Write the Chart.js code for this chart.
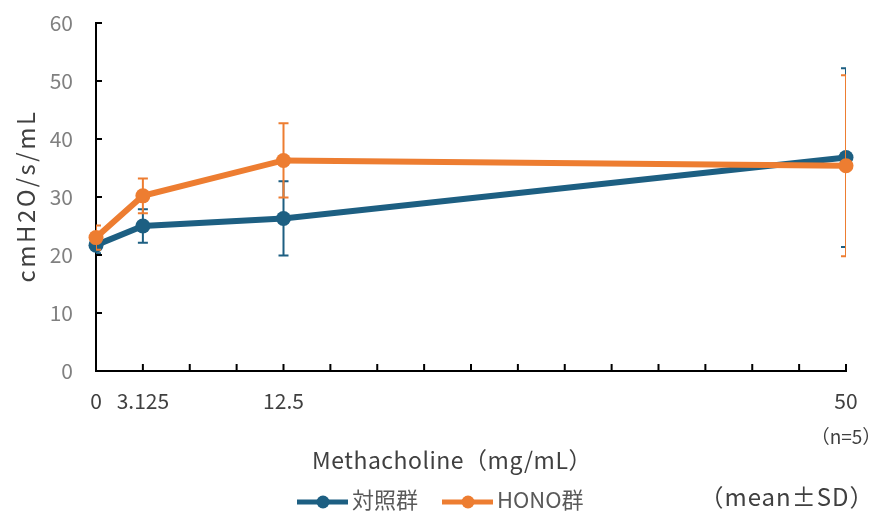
<!DOCTYPE html>
<html>
<head>
<meta charset="utf-8">
<script src="https://cdn.jsdelivr.net/npm/chart.js@4/dist/chart.umd.min.js"></script>
<style>
  body { margin: 0; background: #fff; }
</style>
</head>
<body>
<canvas id="mchChart" width="875" height="511"></canvas>
<script>
// メタコリン濃度
var doses = [0, 3.125, 12.5, 50];
var labelledDoses = [0, 3.125, 12.5, 50];
// 対照群 mean / SD
var controlMean = [21.7, 25.0, 26.3, 36.8];
var controlSD = [1.4, 2.9, 6.4, 15.4];
// HONO群 mean / SD
var honoMean = [23.0, 30.2, 36.3, 35.4];
var honoSD = [2.1, 3.0, 6.4, 15.6];
var yTicks = [0, 10, 20, 30, 40, 50, 60];

var BLUE = '#1d5f82';
var ORANGE = '#ed7d31';
var FONT = '"Noto Sans CJK JP", "Noto Sans", sans-serif';

function points(means) {
  return doses.map(function (d, i) { return { x: d, y: means[i] }; });
}

// エラーバー（データセットごとに描画）
var errorBars = {
  id: 'errorBars',
  beforeDatasetDraw: function (chart, args) {
    var ds = chart.data.datasets[args.index];
    var x = chart.scales.x, y = chart.scales.y, a = chart.chartArea;
    var ctx = chart.ctx;
    ctx.save();
    ctx.beginPath();
    ctx.rect(a.left, a.top - 10, a.right - a.left, a.bottom - a.top + 20);
    ctx.clip();
    ctx.strokeStyle = ds.borderColor;
    ctx.lineWidth = 2;
    doses.forEach(function (d, i) {
      var px = x.getPixelForValue(d);
      var hi = y.getPixelForValue(ds.means[i] + ds.sd[i]);
      var lo = y.getPixelForValue(ds.means[i] - ds.sd[i]);
      ctx.beginPath();
      ctx.moveTo(px, hi); ctx.lineTo(px, lo);
      ctx.moveTo(px - 5, hi); ctx.lineTo(px + 5, hi);
      ctx.moveTo(px - 5, lo); ctx.lineTo(px + 5, lo);
      ctx.stroke();
    });
    ctx.restore();
  }
};

// 内向きの目盛り・軸ラベル・凡例
var extras = {
  id: 'extras',
  afterDraw: function (chart) {
    var ctx = chart.ctx, x = chart.scales.x, y = chart.scales.y, a = chart.chartArea;
    ctx.save();
    ctx.strokeStyle = '#000';
    ctx.lineWidth = 2;
    ctx.beginPath();
    yTicks.forEach(function (v) {
      var py = y.getPixelForValue(v);
      ctx.moveTo(a.left, py); ctx.lineTo(a.left + 6, py);
    });
    for (var v = 0; v <= 50; v += 3.125) {
      var px = x.getPixelForValue(v);
      ctx.moveTo(px, a.bottom); ctx.lineTo(px, a.bottom - 7);
    }
    ctx.stroke();

    ctx.textBaseline = 'middle';
    ctx.textAlign = 'center';
    ctx.fillStyle = '#404040';

    // 縦軸タイトル
    ctx.save();
    ctx.translate(26, (a.top + a.bottom) / 2);
    ctx.rotate(-Math.PI / 2);
    ctx.font = '24px ' + FONT;
    ctx.letterSpacing = '2.5px';
    ctx.fillText('cmH2O/s/mL', 1, 0);
    ctx.restore();

    ctx.font = '23px ' + FONT;
    ctx.letterSpacing = '0.5px';
    ctx.fillText('Methacholine（mg/mL）', 452, 460);
    ctx.font = '19px ' + FONT;
    ctx.letterSpacing = '0px';
    ctx.fillText('（n=5）', 846, 437);
    ctx.font = '24px ' + FONT;
    ctx.letterSpacing = '1px';
    ctx.fillText('（mean±SD）', 787, 497);
    ctx.letterSpacing = '0px';

    // 凡例
    var items = [
      { text: '対照群', color: BLUE, x0: 297 },
      { text: 'HONO群', color: ORANGE, x0: 442 }
    ];
    items.forEach(function (it) {
      ctx.strokeStyle = it.color;
      ctx.lineWidth = 5;
      ctx.beginPath();
      ctx.moveTo(it.x0, 502); ctx.lineTo(it.x0 + 51, 502);
      ctx.stroke();
      ctx.fillStyle = it.color;
      ctx.beginPath();
      ctx.arc(it.x0 + 26, 502, 6.5, 0, Math.PI * 2);
      ctx.fill();
      ctx.fillStyle = '#595959';
      ctx.font = '22px ' + FONT;
      ctx.textAlign = 'left';
      ctx.fillText(it.text, it.x0 + 55, 500);
    });
    ctx.restore();
  }
};

var mchChart = new Chart(document.getElementById('mchChart'), {
  type: 'line',
  data: {
    datasets: [
      {
        label: '対照群',
        data: points(controlMean),
        means: controlMean,
        sd: controlSD,
        borderColor: BLUE,
        backgroundColor: BLUE,
        borderWidth: 6,
        pointRadius: 7.5,
        pointHoverRadius: 7.5,
        pointBorderWidth: 0,
        clip: false,
        order: 2,
      },
      {
        label: 'HONO群',
        data: points(honoMean),
        means: honoMean,
        sd: honoSD,
        borderColor: ORANGE,
        backgroundColor: ORANGE,
        borderWidth: 6,
        pointRadius: 7.5,
        pointHoverRadius: 7.5,
        pointBorderWidth: 0,
        clip: false,
        order: 1,
      },
    ],
  },
  options: {
    responsive: false,
    animation: false,
    devicePixelRatio: 1,
    layout: { padding: { top: 23, right: 29, left: 0, bottom: 0 } },
    plugins: {
      legend: { display: false },
      tooltip: { enabled: false },
    },
    scales: {
      x: {
        type: 'linear',
        min: 0,
        max: 50,
        afterBuildTicks: function (s) {
          s.ticks = labelledDoses.map(function (v) { return { value: v }; });
        },
        afterFit: function (s) {
          s.height = 140;
          s.paddingLeft = 0;
          s.paddingRight = 0;
        },
        grid: { display: false, drawTicks: false },
        border: { display: true, color: '#000', width: 2 },
        ticks: {
          autoSkip: false,
          maxRotation: 0,
          padding: 17,
          color: '#404040',
          font: { family: FONT, size: 21 },
          callback: function (v) { return String(v); },
        },
      },
      y: {
        min: 0,
        max: 60,
        afterBuildTicks: function (s) {
          s.ticks = yTicks.map(function (v) { return { value: v }; });
        },
        afterFit: function (s) {
          s.width = 96;
          s.paddingTop = 0;
          s.paddingBottom = 0;
        },
        grid: { display: false, drawTicks: false },
        border: { display: true, color: '#000', width: 2 },
        ticks: {
          padding: 23,
          color: '#808080',
          font: { family: FONT, size: 21 },
        },
      },
    },
  },
  plugins: [errorBars, extras],
});
</script>
</body>
</html>
